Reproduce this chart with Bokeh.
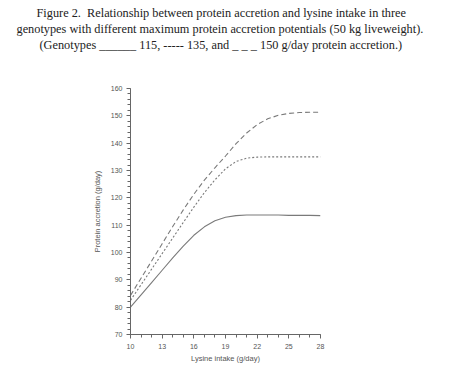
from bokeh.plotting import figure
from bokeh.models import Range1d, FixedTicker, Title
from bokeh.embed import file_html
from bokeh.resources import INLINE

# Data
lysine = [10, 11, 12, 13, 14, 15, 16, 17, 18, 19, 20, 21, 22, 23, 24, 25, 26, 27, 28]
g115 = [80.0, 84.5, 89.0, 93.5, 98.0, 102.3, 106.3, 109.4, 111.6, 112.9, 113.5, 113.7,
        113.7, 113.7, 113.7, 113.6, 113.6, 113.6, 113.5]
g135 = [82.5, 88.2, 93.9, 99.6, 105.3, 111.0, 116.6, 121.9, 126.6, 130.6, 133.3, 134.5,
        134.9, 135.0, 135.0, 135.0, 135.0, 135.0, 135.0]
g150 = [84.3, 90.6, 96.9, 103.2, 109.5, 115.6, 121.3, 126.5, 131.0, 135.3, 139.8, 143.7,
        146.8, 148.9, 150.2, 150.9, 151.2, 151.3, 151.3]

x_ticks = [10, 13, 16, 19, 22, 25, 28]
y_ticks = [70, 80, 90, 100, 110, 120, 130, 140, 150, 160]

title_lines = [
    "Figure 2.\u00a0 Relationship between protein accretion and lysine intake in three",
    "genotypes with different maximum protein accretion potentials (50 kg liveweight).",
    "(Genotypes ______ 115, ----- 135, and _ _ _ 150 g/day protein accretion.)",
]
title_sizes = ["12.3px", "12.3px", "12.3px"]

X0, X1, Y0, Y1 = 10, 28, 70, 160
FW, FH = 190, 246
LEFT, TOP = 130, 88

p = figure(width=446, height=369, output_backend="svg", toolbar_location=None,
           x_range=Range1d(X0, X1), y_range=Range1d(Y0, Y1),
           frame_width=FW, frame_height=FH,
           min_border_left=LEFT, min_border_top=TOP, min_border_right=126,
           min_border_bottom=35)
p.outline_line_color = None
p.grid.visible = False
p.background_fill_color = "white"
p.border_fill_color = "white"

# spacer nearest the frame, then the title lines (first added sits nearest the frame)
p.add_layout(Title(text=" ", text_font_size="1px", standoff=34), "above")
offsets = [-94, -114, -91]
for t, s, off in reversed(list(zip(title_lines, title_sizes, offsets))):
    p.add_layout(Title(text=t, align="left", offset=off, text_font="Liberation Serif",
                       text_font_size=s, text_font_style="normal",
                       text_color="#222222", standoff=0), "above")

line_col = "#7a7a7a"
p.line(lysine, g115, line_color=line_col, line_width=1.1)
p.line(lysine, g135, line_color=line_col, line_width=1.1, line_dash="2 2")
p.line(lysine, g150, line_color=line_col, line_width=1.1, line_dash="5 3")

for ax in (p.xaxis[0], p.yaxis[0]):
    ax.axis_line_color = "#666666"
    ax.major_tick_line_color = "#666666"
    ax.minor_tick_line_color = "#666666"
    ax.major_tick_in = 0
    ax.major_tick_out = 4
    ax.minor_tick_in = 0
    ax.minor_tick_out = 3
    ax.major_label_text_font = "Liberation Sans"
    ax.major_label_text_font_size = "7px"
    ax.major_label_text_color = "#555555"
    ax.axis_label_text_font = "Liberation Sans"
    ax.axis_label_text_font_size = "7.5px"
    ax.axis_label_text_font_style = "normal"
    ax.axis_label_text_color = "#555555"

p.xaxis[0].ticker = FixedTicker(ticks=x_ticks, minor_ticks=list(range(X0, X1 + 1)))
p.yaxis[0].ticker = FixedTicker(ticks=y_ticks, minor_ticks=list(range(Y0, Y1 + 1, 2)))
p.xaxis[0].axis_label = "Lysine intake (g/day)"
p.yaxis[0].axis_label = "Protein accretion (g/day)"
p.xaxis[0].major_label_standoff = 5
p.xaxis[0].axis_label_standoff = 2
p.yaxis[0].major_label_standoff = 4
p.yaxis[0].axis_label_standoff = 6

open("out.html", "w").write(file_html(p, INLINE))
